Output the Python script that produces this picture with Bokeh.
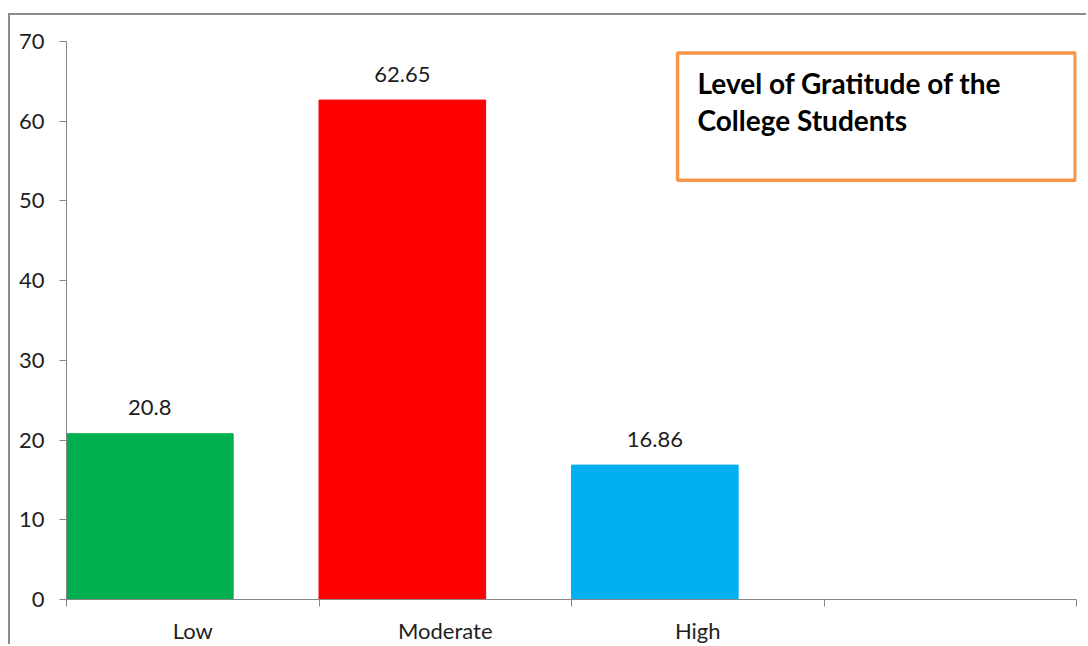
from bokeh.plotting import figure
from bokeh.models import FixedTicker, BoxAnnotation, Label, ColumnDataSource, Range1d
from bokeh.core.properties import value
from bokeh.embed import file_html
from bokeh.resources import INLINE

# Data
categories = ["Low", "Moderate", "High"]
percent = [20.8, 62.65, 16.86]
bar_colors = ["#00B050", "#FF0000", "#00B0F0"]
y_ticks = [0, 10, 20, 30, 40, 50, 60, 70]
title_lines = ["Level of Gratitude of the", "College Students"]

FONT = "Lato"
TEXT = "#1E1E1E"
AXIS_GRAY = "#868686"
n_slots = 4          # three categories plus one empty slot on the right
bar_w = 0.66

idx = list(range(len(categories)))
src = ColumnDataSource(dict(
    x=[i + bar_w / 2 for i in idx],
    top=percent,
    color=bar_colors,
    label=[str(v) for v in percent],
))

p = figure(width=1078, height=631, output_backend="svg", toolbar_location=None,
           x_range=Range1d(0, n_slots), y_range=Range1d(0, 70),
           min_border_left=56, min_border_right=12,
           min_border_top=26, min_border_bottom=47)
# chart-area border on the top and left edges
p.styles = {"border-top": "2px solid #8C8C8C", "border-left": "2px solid #8C8C8C",
            "margin-left": "8px", "margin-top": "13px"}
p.outline_line_color = None
p.grid.visible = False
p.background_fill_color = "white"
p.border_fill_color = "white"

p.vbar(x="x", top="top", width=bar_w, bottom=0, color="color", source=src)

p.text(x="x", y="top", text="label", source=src, text_align="center",
       text_baseline="alphabetic", y_offset=-26, text_font=value(FONT),
       text_font_size="22px", text_color=TEXT)

# y axis
ya = p.yaxis[0]
ya.ticker = FixedTicker(ticks=y_ticks, minor_ticks=[])
ya.axis_line_color = AXIS_GRAY
ya.major_tick_line_color = AXIS_GRAY
ya.major_tick_out = 7
ya.major_tick_in = 0
ya.major_label_standoff = 15
ya.major_label_text_font = FONT
ya.major_label_text_font_size = "22px"
ya.major_label_text_color = TEXT

# x axis: labels at slot centres, ticks at slot boundaries
xa = p.xaxis[0]
xa.ticker = FixedTicker(ticks=[i + 0.5 for i in idx],
                        minor_ticks=list(range(n_slots + 1)))
xa.major_label_overrides = {i + 0.5: c for i, c in zip(idx, categories)}
xa.axis_line_color = AXIS_GRAY
xa.major_tick_line_color = None
xa.major_tick_out = 7
xa.major_tick_in = 0
xa.minor_tick_line_color = AXIS_GRAY
xa.minor_tick_out = 7
xa.minor_tick_in = 0
xa.major_label_standoff = 10
xa.major_label_text_font = FONT
xa.major_label_text_font_size = "22px"
xa.major_label_text_color = TEXT

# title box
p.add_layout(BoxAnnotation(left=2.42, right=3.995, top=68.55, bottom=52.6,
                           fill_color="white", fill_alpha=1.0,
                           line_color="#F79646", line_alpha=1.0, line_width=3.5))
for line, yv in zip(title_lines, [64.75, 60.2]):
    p.add_layout(Label(x=2.499, y=yv, text=line, text_font=FONT,
                       text_font_style="bold", text_font_size="28px",
                       text_baseline="alphabetic", text_color="black"))

open("out.html", "w").write(file_html(p, INLINE))
